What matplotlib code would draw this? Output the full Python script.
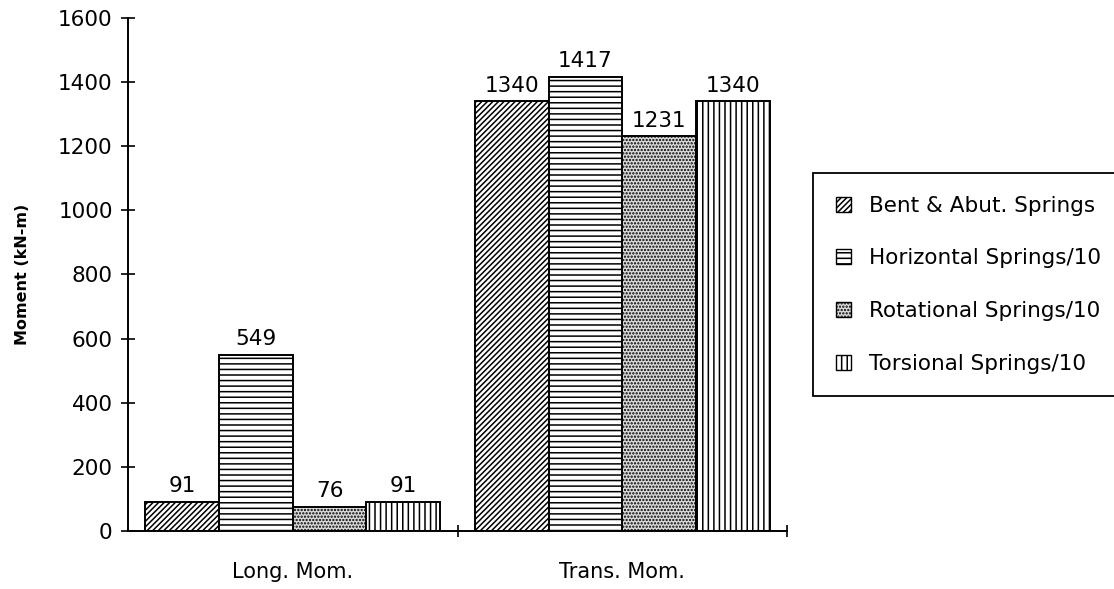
import numpy as np
import matplotlib
matplotlib.use("Agg")
import matplotlib.pyplot as plt
from matplotlib.patches import Patch

plt.rcParams['font.family'] = ['DejaVu Sans']
plt.rcParams['hatch.linewidth'] = 1.1

# moments for each support model
categories = ['Long. Mom.', 'Trans. Mom.']
series = ['Bent & Abut. Springs', 'Horizontal Springs/10',
          'Rotational Springs/10', 'Torsional Springs/10']
bent_abut = [91, 1340]
horizontal = [549, 1417]
rotational = [76, 1231]
torsional = [91, 1340]
values = [bent_abut, horizontal, rotational, torsional]

hatches = ['//////', '---', '.....', '|||']
faces = ['white', 'white', '#dadada', 'white']

fig = plt.figure(figsize=(11.14, 5.89), dpi=100)
ax = fig.add_axes([0.1149, 0.0985, 0.5916, 0.871])

x = np.arange(len(categories))
w = 0.2235
for i, vals in enumerate(values):
    bars = ax.bar(x + (i - 1.5) * w, vals, w, facecolor=faces[i],
                  edgecolor='black', hatch=hatches[i], linewidth=1.4)
    ax.bar_label(bars, labels=[str(v) for v in vals], padding=4, fontsize=15.5)

ax.set_xlim(-0.5, 1.5)
ax.set_ylim(0, 1600)
ax.set_yticks(np.arange(0, 1601, 200))
ax.tick_params(axis='y', direction='inout', length=10, width=1.2,
               labelsize=15.5, pad=6)

# group boundaries get the tick marks, names sit under the groups
ax.set_xticks([0.5, 1.5])
ax.set_xticklabels([])
ax.tick_params(axis='x', which='major', direction='inout', length=9, width=1.2)
ax.set_xticks(x, categories, minor=True)
ax.tick_params(axis='x', which='minor', length=0, pad=22, labelsize=15)

for s in ['top', 'right']:
    ax.spines[s].set_visible(False)
for s in ['left', 'bottom']:
    ax.spines[s].set_linewidth(1.4)

ax.set_ylabel('Moment (kN-m)', fontsize=11.5, fontweight='bold', labelpad=20)

handles = [Patch(facecolor=faces[i], edgecolor='black', hatch=hatches[i],
                 linewidth=1.0) for i in range(4)]
leg = fig.legend(handles, series, loc='upper left',
                 bbox_to_anchor=(813 / 1114, 1 - 173 / 589),
                 fontsize=15.5, handlelength=0.7, handleheight=0.7,
                 handletextpad=0.85, labelspacing=1.52, borderpad=1.05,
                 borderaxespad=0, fancybox=False, framealpha=1)
leg.get_frame().set_edgecolor('black')
leg.get_frame().set_linewidth(1.3)

fig.savefig('out.png', dpi=100)
